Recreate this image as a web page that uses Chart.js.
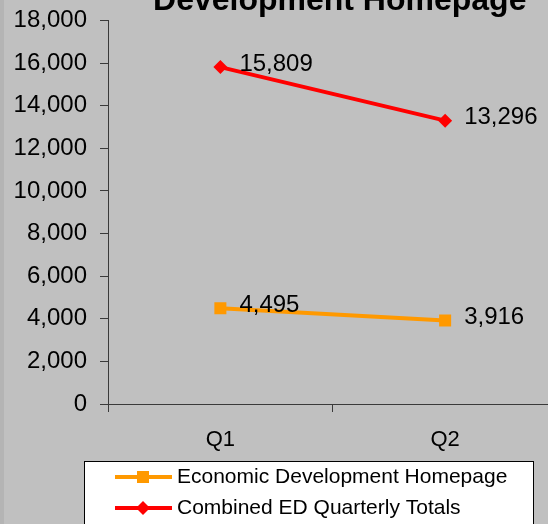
<!DOCTYPE html>
<html>
<head>
<meta charset="utf-8">
<script src="https://cdn.jsdelivr.net/npm/chart.js@4.4.1/dist/chart.umd.min.js"></script>
<style>
  html, body { margin: 0; padding: 0; background: #c0c0c0; }
  #wrap { position: relative; width: 548px; height: 524px; overflow: hidden; background: #c0c0c0; }
  #wrap canvas { position: absolute; left: 0; top: 0; }
  #edge { position: absolute; left: 0; top: 0; width: 4px; height: 524px; background: #b4b4b4; }
</style>
</head>
<body>
<div id="wrap">
  <canvas id="chart" width="566" height="524"></canvas>
  <div id="edge"></div>
</div>
<script>
// ---- data ----
const quarters = ['Q1', 'Q2'];
const homepageVisits = [4495, 3916];
const combinedTotals = [15809, 13296];
const seriesNames = ['Economic Development Homepage', 'Combined ED Quarterly Totals'];
const chartTitle = 'Development Homepage';

const FONT = '"Liberation Sans", Arial, sans-serif';
const AXIS = '#3a3a3a';
Chart.defaults.font.family = FONT;
Chart.defaults.color = '#000';

// nudge the title a little to the right, as in the original
const titleShift = {
  id: 'titleShift',
  afterLayout(chart) {
    if (chart.titleBlock) {
      chart.titleBlock.left += 7;
      chart.titleBlock.right += 7;
    }
  }
};

// value labels to the right of each point
const valueLabels = {
  id: 'valueLabels',
  afterDatasetsDraw(chart) {
    const ctx = chart.ctx;
    ctx.save();
    ctx.font = '24px ' + FONT;
    ctx.fillStyle = '#000';
    ctx.textAlign = 'left';
    ctx.textBaseline = 'middle';
    chart.data.datasets.forEach((ds, i) => {
      chart.getDatasetMeta(i).data.forEach((pt, j) => {
        ctx.fillText(ds.data[j].toLocaleString('en-US'), pt.x + 19, pt.y - 3);
      });
    });
    ctx.restore();
  }
};

// boxed legend under the axis
const boxLegend = {
  id: 'boxLegend',
  afterDraw(chart) {
    const ctx = chart.ctx;
    ctx.save();
    ctx.fillStyle = '#fff';
    ctx.fillRect(84, 461, 449, 70);
    ctx.strokeStyle = '#000';
    ctx.lineWidth = 1;
    ctx.strokeRect(84.5, 461.5, 449, 70);
    ctx.font = '21px ' + FONT;
    ctx.textBaseline = 'middle';
    ctx.textAlign = 'left';
    chart.data.datasets.forEach((ds, i) => {
      const y = 477 + i * 31;
      ctx.strokeStyle = ds.borderColor;
      ctx.lineWidth = ds.borderWidth;
      ctx.beginPath();
      ctx.moveTo(115, y);
      ctx.lineTo(172, y);
      ctx.stroke();
      ctx.fillStyle = ds.borderColor;
      ctx.beginPath();
      if (ds.pointStyle === 'rect') {
        ctx.rect(137, y - 6, 12, 12);
      } else {
        ctx.moveTo(143, y - 7);
        ctx.lineTo(150, y);
        ctx.lineTo(143, y + 7);
        ctx.lineTo(136, y);
        ctx.closePath();
      }
      ctx.fill();
      ctx.fillStyle = '#000';
      ctx.fillText(ds.label, 177, y);
    });
    ctx.restore();
  }
};

new Chart(document.getElementById('chart'), {
  type: 'line',
  data: {
    labels: quarters,
    datasets: [
      {
        label: seriesNames[0],
        data: homepageVisits,
        borderColor: '#ff9900',
        backgroundColor: '#ff9900',
        borderWidth: 4,
        pointStyle: 'rect',
        pointRadius: 8.5,
        pointBackgroundColor: '#ff9900',
        pointBorderWidth: 0,
        tension: 0,
      },
      {
        label: seriesNames[1],
        data: combinedTotals,
        borderColor: '#ff0000',
        backgroundColor: '#ff0000',
        borderWidth: 4,
        pointStyle: 'rectRot',
        pointRadius: 7,
        pointBackgroundColor: '#ff0000',
        pointBorderWidth: 0,
        tension: 0,
      },
    ],
  },
  options: {
    responsive: false,
    animation: false,
    layout: { padding: { left: 14, right: 4, top: 0, bottom: 70 } },
    scales: {
      x: {
        offset: true,
        grid: { drawOnChartArea: false, offset: true, tickLength: 8, color: AXIS },
        border: { color: AXIS, width: 1 },
        ticks: { font: { size: 22 }, padding: 15, color: '#000' },
        afterFit: s => { s.height = 50; },
      },
      y: {
        min: 0,
        max: 18000,
        grid: { drawOnChartArea: false, tickLength: 8, color: AXIS },
        border: { color: AXIS, width: 1 },
        ticks: {
          stepSize: 2000,
          font: { size: 24 },
          padding: 13,
          color: '#000',
          callback: v => v.toLocaleString('en-US'),
        },
        afterFit: s => { s.width = 94; s.paddingTop = 0; s.paddingBottom = 0; },
      },
    },
    plugins: {
      title: {
        display: true,
        text: chartTitle,
        fullSize: false,
        color: '#000',
        font: { size: 32, weight: 'bold', lineHeight: 1.2 },
        padding: { top: -18, bottom: 0 },
      },
      legend: { display: false },
      tooltip: { enabled: false },
    },
  },
  plugins: [titleShift, valueLabels, boxLegend],
});
</script>
</body>
</html>
